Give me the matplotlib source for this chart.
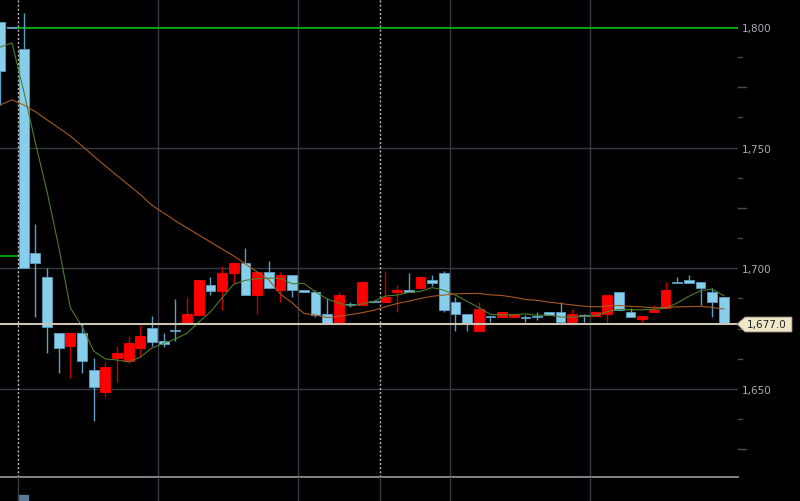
import numpy as np
import matplotlib
matplotlib.use("Agg")
import matplotlib.pyplot as plt
from matplotlib.patches import Polygon, Rectangle
from matplotlib.ticker import FuncFormatter

# candle data, oldest first
opens = [1802.0, 1799.6, 1791.0, 1706.4, 1696.4, 1673.2, 1667.9, 1673.2, 1657.9, 1648.8,
         1662.9, 1661.6, 1667.0, 1675.3, 1670.0, 1674.3, 1677.0, 1680.7, 1693.1, 1690.6,
         1698.1, 1702.2, 1689.0, 1698.5, 1691.1, 1697.3, 1691.1, 1690.2, 1681.1, 1677.8,
         1685.0, 1684.8, 1686.5, 1686.1, 1690.2, 1691.1, 1691.9, 1695.2, 1698.1, 1686.1,
         1681.1, 1674.1, 1680.1, 1679.9, 1679.9, 1679.7, 1680.3, 1681.9, 1681.9, 1677.8,
         1680.7, 1680.3, 1681.1, 1690.2, 1681.9, 1679.0, 1681.9, 1683.6, 1694.4, 1695.2,
         1694.4, 1690.2, 1688.2]
highs = [1802.0, 1799.6, 1805.8, 1718.4, 1700.2, 1673.2, 1673.2, 1677.0, 1662.9, 1661.2,
         1667.9, 1672.0, 1676.6, 1680.3, 1673.2, 1687.3, 1688.2, 1695.2, 1696.4, 1701.0,
         1702.2, 1708.5, 1698.5, 1703.1, 1698.5, 1697.3, 1691.1, 1691.1, 1687.7, 1690.2,
         1686.1, 1694.4, 1686.5, 1698.9, 1693.1, 1698.1, 1696.4, 1697.3, 1698.9, 1688.2,
         1681.1, 1686.1, 1680.3, 1681.9, 1681.1, 1680.7, 1681.9, 1681.9, 1686.1, 1683.2,
         1681.1, 1681.9, 1689.0, 1690.2, 1683.6, 1680.3, 1684.8, 1694.4, 1696.4, 1697.3,
         1694.4, 1691.9, 1688.2]
lows = [1767.7, 1799.4, 1700.0, 1679.9, 1665.0, 1656.7, 1654.6, 1656.7, 1636.8, 1646.7,
        1652.9, 1660.8, 1663.3, 1667.9, 1667.5, 1669.9, 1677.0, 1680.3, 1689.0, 1682.8,
        1693.5, 1689.0, 1681.1, 1691.9, 1686.1, 1688.2, 1690.2, 1679.9, 1677.0, 1677.8,
        1684.0, 1684.8, 1686.1, 1686.1, 1681.9, 1690.2, 1691.9, 1692.7, 1681.9, 1674.1,
        1674.1, 1674.1, 1677.8, 1679.9, 1679.9, 1677.8, 1678.6, 1680.7, 1677.8, 1677.0,
        1677.8, 1680.3, 1677.8, 1682.8, 1679.9, 1677.4, 1681.9, 1683.6, 1693.9, 1693.9,
        1684.8, 1679.9, 1677.0]
closes = [1781.8, 1799.4, 1700.0, 1702.2, 1675.7, 1667.0, 1673.2, 1661.6, 1650.9, 1659.2,
          1665.0, 1669.1, 1672.0, 1669.5, 1668.7, 1674.1, 1681.1, 1695.2, 1690.6, 1698.1,
          1702.2, 1689.0, 1698.5, 1691.9, 1697.3, 1691.1, 1690.2, 1680.7, 1677.0, 1689.0,
          1684.8, 1694.4, 1686.1, 1688.2, 1691.1, 1690.2, 1696.4, 1693.9, 1682.8, 1681.1,
          1677.4, 1683.2, 1679.9, 1681.9, 1681.1, 1679.5, 1679.9, 1680.7, 1677.8, 1681.1,
          1680.3, 1681.9, 1689.0, 1682.8, 1679.9, 1680.3, 1682.8, 1691.1, 1693.9, 1693.9,
          1691.9, 1686.1, 1677.0]

# moving averages
ma_short = [1791.7, 1793.4, 1773.5, 1752.0, 1731.8, 1708.9, 1683.6, 1675.9, 1665.7, 1662.4,
            1662.0, 1661.2, 1663.2, 1667.0, 1668.9, 1670.7, 1673.1, 1677.7, 1681.9, 1687.8,
            1693.4, 1695.0, 1695.7, 1695.9, 1695.8, 1693.6, 1693.8, 1690.2, 1687.3, 1685.6,
            1684.3, 1685.2, 1686.3, 1688.5, 1688.9, 1690.0, 1690.4, 1692.0, 1690.9, 1688.9,
            1686.3, 1683.7, 1680.9, 1680.7, 1680.7, 1681.1, 1680.5, 1680.6, 1679.8, 1679.8,
            1680.0, 1680.4, 1682.0, 1683.0, 1682.8, 1682.8, 1683.0, 1683.4, 1685.6, 1688.4,
            1690.7, 1691.4, 1688.6]
ma_long = [1767.7, 1769.8, 1767.7, 1764.9, 1761.5, 1758.2, 1754.8, 1750.7, 1746.5, 1742.4,
           1738.4, 1734.5, 1730.5, 1726.1, 1722.9, 1719.7, 1716.7, 1713.8, 1710.9, 1708.0,
           1705.1, 1701.8, 1698.5, 1695.2, 1689.3, 1685.7, 1681.3, 1680.6, 1679.6, 1680.1,
           1680.8, 1681.6, 1682.6, 1684.1, 1685.4, 1686.4, 1687.5, 1688.4, 1688.9, 1689.4,
           1689.5, 1689.6, 1689.0, 1688.7, 1688.0, 1687.1, 1686.7, 1686.0, 1685.4, 1684.8,
           1684.3, 1684.0, 1684.3, 1684.6, 1684.2, 1684.0, 1683.6, 1683.8, 1684.0, 1684.1,
           1684.2, 1683.8, 1683.1]

last_price = 1677.0
ref_levels = [1705.1, 1799.4]  # green reference line, before / after the session break
price_ticks = [1650, 1700, 1750, 1800]
session_breaks = [1.5, 32.5]
time_grid = [13.5, 25.5, 38.5, 50.5]

BG = "black"
GRID = "#363a46"
XLIM = (-0.03, 63.21)
YLIM = (1613.5, 1811.6)

W, H = 800, 502
fig = plt.figure(figsize=(W / 100, H / 100), dpi=100, facecolor=BG)
ax = fig.add_axes([0, 24 / H, 738 / W, 478 / H], facecolor=BG)
strip = fig.add_axes([0, 0, 738 / W, 24 / H], facecolor=BG)

x = np.arange(len(opens))
o, hi, lo, c = map(np.array, (opens, highs, lows, closes))
up = c > o
body_bot = np.minimum(o, c)
body_h = np.maximum(np.abs(c - o), 0.45)

# grid
for p in price_ticks:
    ax.axhline(p, color=GRID, lw=1, zorder=1)
for gx in time_grid:
    ax.axvline(gx, color=GRID, lw=1, zorder=1)
    strip.axvline(gx, color=GRID, lw=1)
for b in session_breaks:
    ax.axvline(b, color="#bdbdbd", lw=1, ls=(0, (1.5, 1.5)), zorder=2)
    strip.axvline(b, color=GRID, lw=1)

# green reference line
ax.hlines(ref_levels[0], XLIM[0], session_breaks[0], color="#00c800", lw=1.1, zorder=2)
ax.hlines(ref_levels[1], session_breaks[0], XLIM[1], color="#00c800", lw=1.1, zorder=2)

# candles
wick_col = np.where(up, "#c80000", "#5a9fc4")
ax.vlines(x, lo, hi, colors=wick_col, lw=1, zorder=3)
ax.bar(x, body_h, bottom=body_bot, width=0.84,
       color=np.where(up, "#ff0000", "#87ceeb"),
       edgecolor=np.where(up, "#ff0000", "#5a9fc4"), lw=0.6, zorder=4)

# moving averages
ax.plot(x, ma_short, color="#4f7d2a", lw=0.8, zorder=5)
ax.plot(x, ma_long, color="#a8581f", lw=0.8, zorder=5)

# last price line
ax.axhline(last_price, color="#cbc3b3", lw=1.5, zorder=6)

ax.set_xlim(*XLIM)
ax.set_ylim(*YLIM)
ax.set_xticks([])
for side in ("top", "left", "right"):
    ax.spines[side].set_visible(False)
ax.spines["bottom"].set_color("#9a9a9a")
ax.spines["bottom"].set_linewidth(1.2)

ax.yaxis.tick_right()
ax.set_yticks(price_ticks)
ax.yaxis.set_major_formatter(FuncFormatter(lambda v, _: f"{v:,.0f}"))
ax.tick_params(axis="y", which="major", length=0, pad=3, labelsize=7.5, labelcolor="#a8acb4")

# small ticks on the price scale: longer at the 25s, short at the 12.5s
ytr = ax.get_yaxis_transform()
for p in np.arange(1625, 1812, 12.5):
    if p in price_ticks:
        continue
    tick_len = 8 if p % 25 == 0 else 4
    ax.plot([1.0, 1.0 + tick_len / 738], [p, p], color="#4a4c56", lw=1,
            transform=ytr, clip_on=False, zorder=1)

# strip below the plot
strip.set_xlim(*XLIM)
strip.set_ylim(0, 24)
strip.axis("off")
strip.add_patch(Rectangle((18 / 11.67 - 0.03, 0), 10 / 11.67, 6, color="#5b7a99"))


def px(xp, yp):
    return (xp / W, 1 - yp / H)


# last price tag
tag = Polygon([px(737, 325), px(745, 318), px(792, 318), px(792, 333), px(745, 333)],
              closed=True, transform=fig.transFigure, facecolor="#f0e6c8",
              edgecolor="#8a8478", lw=0.6, zorder=10)
fig.add_artist(tag)
fig.text(*px(767, 325.5), f"{last_price:,.1f}", ha="center", va="center",
         fontsize=7.5, color="#222222", zorder=11)

fig.savefig("out.png", dpi=100, facecolor=BG)
